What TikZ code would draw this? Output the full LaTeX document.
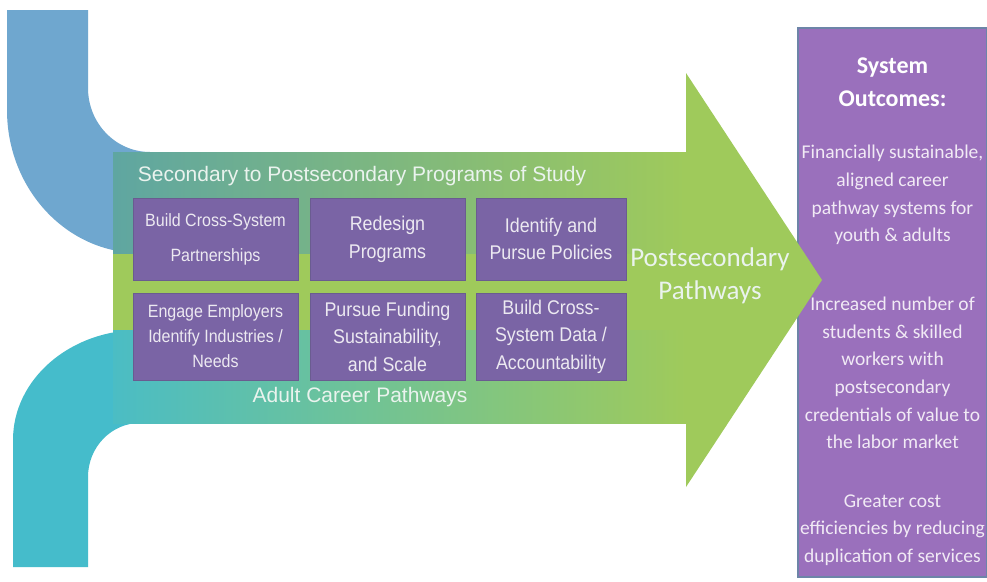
\documentclass[tikz,border=0pt]{standalone}
\usepackage{fontspec}
\setmainfont{Liberation Sans}
\newfontfamily\cali{Carlito}
\newfontfamily\narrowsans[FakeStretch=0.9]{Liberation Sans}
\definecolor{bandblue}{HTML}{6FA7CF}
\definecolor{bandteal}{HTML}{45BCCB}
\definecolor{arrowgreen}{HTML}{9FCA5B}
\definecolor{topmix}{HTML}{5FA6A1}
\definecolor{botmix}{HTML}{4BBDC4}
\definecolor{cellfill}{HTML}{7A64A5}
\definecolor{cellline}{HTML}{6A5C90}
\definecolor{celltext}{HTML}{ECE9F1}
\definecolor{labeltext}{HTML}{EAF3EE}
\definecolor{outfill}{HTML}{9A70BC}
\definecolor{outline}{HTML}{6D85A8}
\definecolor{outtextc}{HTML}{F1EAF5}
\tikzset{
  cell/.style={draw=cellline, fill=cellfill, line width=1pt, inner sep=0pt,
    align=center, text=celltext},
  secttext/.style={text=labeltext, font=\fontsize{21}{25}\selectfont, inner sep=0pt},
  outtext/.style={text=outtextc, align=center, inner sep=0pt,
    font=\cali\fontsize{19.5}{27.7}\selectfont},
}
\begin{document}
\begin{tikzpicture}[x=1pt,y=-1pt]
\useasboundingbox (0,0) rectangle (987,581);
\fill[white] (0,0) rectangle (987,581);

% outcomes box
\node[draw=outline, fill=outfill, line width=1.2pt, minimum width=189pt,
      minimum height=549pt, inner sep=0pt] (outcomes) at (892.5,302.5) {};

% top (blue) band
\fill[bandblue] (7,10) -- (88,10) -- (88,88)
  arc[start angle=180, end angle=90, x radius=62, y radius=64]
  -- (165,152) -- (165,253) -- (140,253)
  arc[start angle=90, end angle=180, x radius=133, y radius=143] -- cycle;
% bottom (teal) band
\fill[bandteal] (13,567) -- (88,567) -- (88,477)
  arc[start angle=180, end angle=270, x radius=52, y radius=54]
  -- (165,423) -- (165,330) -- (140,330)
  arc[start angle=270, end angle=180, x radius=127, y radius=110] -- cycle;

% main arrow
\fill[arrowgreen] (113,152) -- (686,152) -- (686,73) -- (822,280)
  -- (686,487) -- (686,423) -- (113,423) -- cycle;
\shade[left color=topmix, right color=arrowgreen] (113,152) rectangle (686,253);
\shade[left color=botmix, right color=arrowgreen] (113,330) rectangle (686,423);

% labels on the arrow
\node[secttext] (sec) at (362,176) {Secondary to Postsecondary Programs of Study};
\node[secttext] (adult) at (360,397) {Adult Career Pathways};
\node[text=labeltext, align=center, inner sep=0pt,
      font=\cali\fontsize{27}{33}\selectfont] (post) at (710,276)
      {Postsecondary\\Pathways};

% cells
\node[cell, minimum width=165pt, minimum height=82pt,
      font=\narrowsans\fontsize{17.8}{35}\selectfont] (c11) at (215.5,239)
      {Build Cross-System\\Partnerships};
\node[cell, minimum width=155pt, minimum height=82pt,
      font=\narrowsans\fontsize{19.8}{28}\selectfont] (c12) at (387.5,239)
      {Redesign\\Programs};
\node[cell, minimum width=150pt, minimum height=82pt,
      font=\narrowsans\fontsize{19.8}{27}\selectfont] (c13) at (551,239)
      {Identify and\\Pursue Policies};
\node[cell, minimum width=165pt, minimum height=87pt,
      font=\narrowsans\fontsize{17.8}{25}\selectfont] (c21) at (215.5,336.5)
      {Engage Employers\\Identify Industries /\\Needs};
\node[cell, minimum width=155pt, minimum height=87pt,
      font=\narrowsans\fontsize{19.8}{27.5}\selectfont] (c22) at (387.5,336.5)
      {Pursue Funding\\Sustainability,\\and Scale};
\node[cell, minimum width=150pt, minimum height=87pt,
      font=\narrowsans\fontsize{19.8}{27.5}\selectfont] (c23) at (551,336.5)
      {Build Cross-\\System Data /\\Accountability};

% outcomes text
\node[text=white, align=center, inner sep=0pt,
      font=\cali\bfseries\fontsize{24}{33}\selectfont] (otitle) at (892.5,82)
      {System\\Outcomes:};
\node[outtext] (o1) at (892.5,195) {Financially sustainable,\\aligned career\\pathway systems for\\youth \& adults};
\node[outtext] (o2) at (892.5,373) {Increased number of\\students \& skilled\\workers with\\postsecondary\\credentials of value to\\the labor market};
\node[outtext] (o3) at (892.5,530) {Greater cost\\efficiencies by reducing\\duplication of services};
\end{tikzpicture}
\end{document}
